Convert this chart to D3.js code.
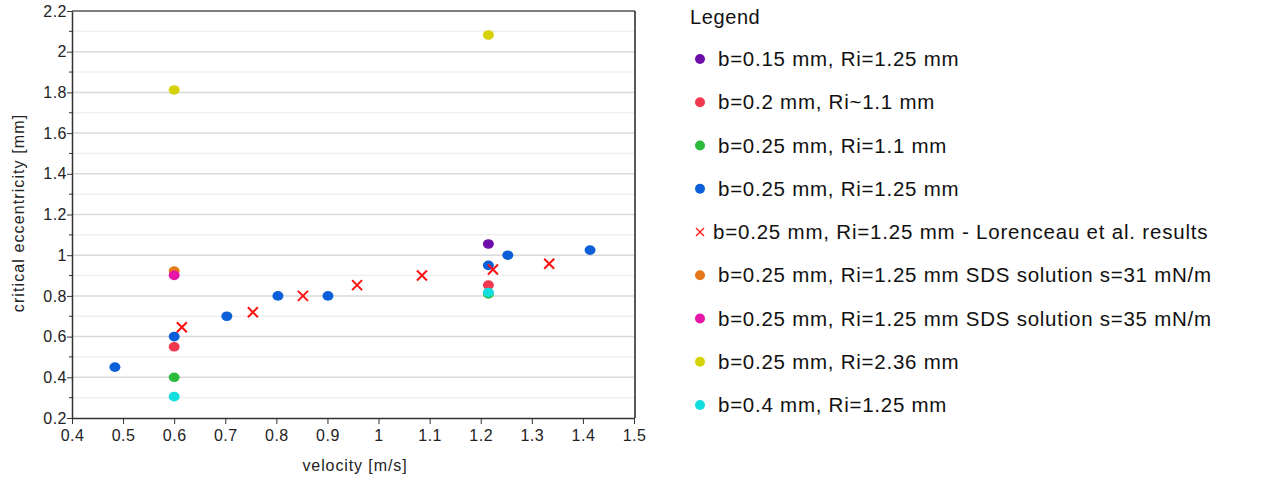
<!DOCTYPE html>
<html>
<head>
<meta charset="utf-8">
<script src="https://cdn.jsdelivr.net/npm/d3@7"></script>
<style>
  body { margin: 0; background: #fff; }
  svg { font-family: "Liberation Sans", Arial, sans-serif; }
</style>
</head>
<body>
<svg id="chart" width="1265" height="485"></svg>
<script>
// series names, colours, and points [velocity, eccentricity]
var seriesNames = [
  "b=0.15 mm, Ri=1.25 mm",
  "b=0.2 mm, Ri~1.1 mm",
  "b=0.25 mm, Ri=1.1 mm",
  "b=0.25 mm, Ri=1.25 mm",
  "b=0.25 mm, Ri=1.25 mm - Lorenceau et al. results",
  "b=0.25 mm, Ri=1.25 mm SDS solution s=31 mN/m",
  "b=0.25 mm, Ri=1.25 mm SDS solution s=35 mN/m",
  "b=0.25 mm, Ri=2.36 mm",
  "b=0.4 mm, Ri=1.25 mm"
]
var seriesColors = ["#6c0fa8", "#f0384f", "#2cba3c", "#0b5fd8", "#ff1010", "#e5781a", "#e616a8", "#d6d20a", "#12dede"]
var seriesSymbols = ["dot", "dot", "dot", "dot", "cross", "dot", "dot", "dot", "dot"]

var b015 = [[1.215, 1.055]]
var b02 = [[0.6, 0.55], [1.215, 0.853]]
var b025ri11 = [[0.6, 0.40], [1.215, 0.81]]
var b025ri125 = [[0.484, 0.45], [0.6, 0.60], [0.703, 0.70], [0.803, 0.80], [0.901, 0.80], [1.215, 0.95], [1.253, 1.0], [1.414, 1.025]]
var lorenceau = [[0.615, 0.646], [0.754, 0.72], [0.852, 0.80], [0.958, 0.853], [1.085, 0.90], [1.224, 0.93], [1.334, 0.958]]
var sds31 = [[0.6, 0.922]]
var sds35 = [[0.6, 0.901]]
var b025ri236 = [[0.6, 1.812], [1.215, 2.082]]
var b04 = [[0.6, 0.305], [1.215, 0.817]]
var allSeries = [b015, b02, b025ri11, b025ri125, lorenceau, sds31, sds35, b025ri236, b04]

var xTicks = [0.4, 0.5, 0.6, 0.7, 0.8, 0.9, 1, 1.1, 1.2, 1.3, 1.4, 1.5]
var yTicks = [0.2, 0.4, 0.6, 0.8, 1, 1.2, 1.4, 1.6, 1.8, 2, 2.2]
var yMinor = [0.3, 0.5, 0.7, 0.9, 1.1, 1.3, 1.5, 1.7, 1.9, 2.1]

var svg = d3.select("#chart")
var plotL = 72, plotR = 634, plotT = 11, plotB = 418

var xScale = d3.scaleLinear().domain([0.4, 1.5]).range([plotL, plotR])
var yScale = d3.scaleLinear().domain([0.2, 2.2]).range([plotB, plotT])

// grid lines
svg.append("g").selectAll("line.minor")
  .data(yMinor).enter().append("line")
  .attr("x1", plotL).attr("x2", plotR)
  .attr("y1", d => yScale(d)).attr("y2", d => yScale(d))
  .attr("stroke", "#efefef").attr("stroke-width", 1.5)
svg.append("g").selectAll("line.major")
  .data(yTicks.slice(1, -1)).enter().append("line")
  .attr("x1", plotL).attr("x2", plotR)
  .attr("y1", d => yScale(d)).attr("y2", d => yScale(d))
  .attr("stroke", "#d9d9d9").attr("stroke-width", 1.5)

// frame top + right
svg.append("line").attr("x1", plotL).attr("x2", plotR + 1).attr("y1", plotT).attr("y2", plotT)
  .attr("stroke", "#555").attr("stroke-width", 1.5)
svg.append("line").attr("x1", plotR + 1).attr("x2", plotR + 1).attr("y1", plotT).attr("y2", plotB)
  .attr("stroke", "#222").attr("stroke-width", 1.5)

// axes
var xAxis = d3.axisBottom(xScale).tickValues(xTicks).tickFormat(d3.format("")).tickSize(6).tickSizeOuter(0)
var gx = svg.append("g").attr("transform", "translate(0," + plotB + ")").call(xAxis)
var yAxis = d3.axisLeft(yScale).tickValues(yTicks).tickFormat(d3.format("")).tickSize(5).tickSizeOuter(0)
var gy = svg.append("g").attr("transform", "translate(" + plotL + ",0)").call(yAxis)
gy.selectAll(".minorTick").data(yMinor).enter().append("line")
  .attr("x1", -3).attr("x2", 0)
  .attr("y1", d => yScale(d)).attr("y2", d => yScale(d))
  .attr("stroke", "#333")
;[gx, gy].forEach(g => {
  g.select(".domain").attr("stroke", "#333").attr("stroke-width", 1.5)
  g.selectAll(".tick line").attr("stroke", "#333")
  g.selectAll(".tick text").attr("font-size", 16).attr("fill", "#222")
    .attr("letter-spacing", 0.5)
    .attr("font-family", "Liberation Sans, Arial, sans-serif")
})
gx.selectAll(".tick text").attr("dy", "0.9em")
gy.selectAll(".tick text").attr("x", -5)

svg.append("text")
  .attr("x", (plotL + plotR) / 2 + 2).attr("y", 471)
  .attr("text-anchor", "middle").attr("font-size", 16).attr("letter-spacing", 0.9).attr("fill", "#222")
  .text("velocity [m/s]")
svg.append("text")
  .attr("transform", "translate(24,213) rotate(-90)")
  .attr("text-anchor", "middle").attr("font-size", 16).attr("letter-spacing", 1.1).attr("fill", "#222")
  .text("critical eccentricity [mm]")

// points
var crossPath = "M-5,-5L5,5M-5,5L5,-5"
allSeries.forEach((data, i) => {
  var g = svg.append("g")
  if (seriesSymbols[i] == "cross") {
    g.selectAll("path").data(data).enter().append("path")
      .attr("d", crossPath)
      .attr("transform", d => "translate(" + xScale(d[0]) + "," + yScale(d[1]) + ")")
      .attr("stroke", seriesColors[i]).attr("stroke-width", 2).attr("fill", "none")
  } else {
    g.selectAll("ellipse").data(data).enter().append("ellipse")
      .attr("cx", d => xScale(d[0])).attr("cy", d => yScale(d[1]))
      .attr("rx", 5.5).attr("ry", 4.8)
      .attr("fill", seriesColors[i])
  }
})

// legend
var legend = svg.append("g").attr("transform", "translate(690,0)")
legend.append("text").attr("x", 0).attr("y", 24).attr("font-size", 20).attr("letter-spacing", 0.6)
  .attr("fill", "#111").text("Legend")
var rowY = d3.scaleLinear().domain([0, 8]).range([59, 405])
seriesNames.forEach((name, i) => {
  var row = legend.append("g").attr("transform", "translate(10," + rowY(i) + ")")
  var cross = seriesSymbols[i] == "cross"
  if (cross) {
    row.append("path").attr("d", "M-4,-4L4,4M-4,4L4,-4")
      .attr("stroke", seriesColors[i]).attr("stroke-width", 1.3)
  } else {
    row.append("circle").attr("r", 5).attr("fill", seriesColors[i])
  }
  row.append("text").attr("x", cross ? 13 : 18).attr("y", 7).attr("font-size", 20.5)
    .attr("letter-spacing", cross ? 0.8 : 0.75).attr("fill", "#111").text(name)
})
</script>
</body>
</html>
